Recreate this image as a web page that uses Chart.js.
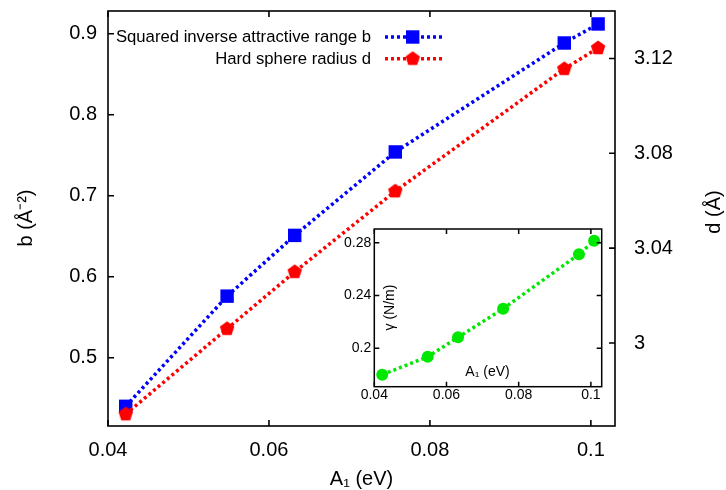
<!DOCTYPE html>
<html><head><meta charset="utf-8">
<script src="https://cdn.jsdelivr.net/npm/chart.js@4/dist/chart.umd.min.js"></script>
<style>
html,body{margin:0;padding:0;background:#fff;}
#wrap{position:relative;width:726px;height:490px;overflow:hidden;}
#main{position:absolute;left:0;top:0;}
#inset{position:absolute;left:330px;top:220px;}
</style></head><body>
<div id="wrap"><canvas id="main" width="726" height="490"></canvas><canvas id="inset" width="290" height="195"></canvas></div>
<script>
// ---- data ----
const A1 = [0.0422, 0.0548, 0.0632, 0.0757, 0.0967, 0.1009];
const bValues = [0.440, 0.576, 0.651, 0.754, 0.8885, 0.912];
const dValues = [2.970, 3.006, 3.030, 3.064, 3.1156, 3.1244];
const gammaValues = [0.180, 0.1936, 0.2083, 0.230, 0.2712, 0.2815];
const xTicks = [0.04, 0.06, 0.08, 0.1];
const xTickLabels = ['0.04', '0.06', '0.08', '0.1'];
const bTicks = [0.5, 0.6, 0.7, 0.8, 0.9];
const bTickLabels = ['0.5', '0.6', '0.7', '0.8', '0.9'];
const dTicks = [3.0, 3.04, 3.08, 3.12];
const dTickLabels = ['3', '3.04', '3.08', '3.12'];
const gTicks = [0.2, 0.24, 0.28];
const gTickLabels = ['0.2', '0.24', '0.28'];
const seriesNames = ['Squared inverse attractive range b', 'Hard sphere radius d'];
const xTitle = 'A\u2081 (eV)';
const bTitle = 'b (\u00C5\u207B\u00B2)';
const dTitle = 'd (\u00C5)';
const gTitle = '\u03B3 (N/m)';

// ---- style ----
const FONT = '"Liberation Sans", Arial, Helvetica, sans-serif';
Chart.defaults.font.family = FONT;
Chart.defaults.color = '#000';
const BLUE = '#0000ff', RED = '#ff0000', GREEN = '#00e800';

function pentagon(R, color) {
  const s = Math.ceil(2 * R + 2);
  const c = document.createElement('canvas');
  c.width = s; c.height = s;
  const g = c.getContext('2d');
  g.fillStyle = color; g.beginPath();
  for (let i = 0; i < 5; i++) {
    const a = -Math.PI / 2 + i * 2 * Math.PI / 5;
    const px = s / 2 + R * Math.cos(a), py = s / 2 + R * Math.sin(a);
    if (i) g.lineTo(px, py); else g.moveTo(px, py);
  }
  g.closePath(); g.fill();
  return c;
}
const pentImg = pentagon(7.6, RED);

function fixBox(size) {
  return function (scale) {
    if (scale.isHorizontal()) scale.height = size; else scale.width = size;
    scale.paddingTop = 0; scale.paddingBottom = 0; scale.paddingLeft = 0; scale.paddingRight = 0;
  };
}
function setTicks(values) { return function (scale) { scale.ticks = values.map(v => ({ value: v })); }; }
function pts(ys) { return A1.map((x, i) => ({ x: x, y: ys[i] })); }

const mainDecor = {
  id: 'mainDecor',
  afterDraw(chart) {
    const { ctx, chartArea: a, scales } = chart;
    ctx.save();
    ctx.strokeStyle = '#000'; ctx.lineWidth = 1.6; ctx.setLineDash([]);
    ctx.beginPath();
    xTicks.forEach(v => { const p = scales.x.getPixelForValue(v);
      ctx.moveTo(p, a.bottom); ctx.lineTo(p, a.bottom - 6); ctx.moveTo(p, a.top); ctx.lineTo(p, a.top + 6); });
    bTicks.forEach(v => { const p = scales.y.getPixelForValue(v); ctx.moveTo(a.left, p); ctx.lineTo(a.left + 6, p); });
    dTicks.forEach(v => { const p = scales.y2.getPixelForValue(v); ctx.moveTo(a.right, p); ctx.lineTo(a.right - 6, p); });
    ctx.stroke();
    ctx.strokeRect(a.left, a.top, a.right - a.left, a.bottom - a.top);

    // axis titles
    ctx.fillStyle = '#000';
    ctx.font = '20px ' + FONT;
    ctx.textAlign = 'center'; ctx.textBaseline = 'alphabetic';
    ctx.fillText(xTitle, (a.left + a.right) / 2, 484.5);
    ctx.save(); ctx.translate(26, 218); ctx.rotate(-Math.PI / 2); ctx.textBaseline = 'middle'; ctx.fillText(bTitle, 0, 0); ctx.restore();
    ctx.save(); ctx.translate(714, 212); ctx.rotate(-Math.PI / 2); ctx.textBaseline = 'middle'; ctx.fillText(dTitle, 0, 0); ctx.restore();

    // key
    ctx.font = '16.7px ' + FONT;
    ctx.textAlign = 'right'; ctx.textBaseline = 'middle';
    const rows = [{ y: 37, c: BLUE }, { y: 58.7, c: RED }];
    rows.forEach((r, i) => {
      ctx.fillStyle = '#000';
      ctx.fillText(seriesNames[i], 371, r.y + 0.5);
      ctx.strokeStyle = r.c; ctx.lineWidth = 3.5; ctx.setLineDash([3, 3]);
      ctx.beginPath(); ctx.moveTo(385, r.y); ctx.lineTo(442, r.y); ctx.stroke();
      ctx.setLineDash([]);
      if (i === 0) { ctx.fillStyle = BLUE; ctx.fillRect(412.7 - 6.7, r.y - 6.7, 13.4, 13.4); }
      else { ctx.drawImage(pentImg, 412.7 - pentImg.width / 2, r.y - pentImg.height / 2); }
    });
    ctx.restore();
  }
};

new Chart(document.getElementById('main'), {
  type: 'line',
  data: { datasets: [
    { label: seriesNames[0], data: pts(bValues), yAxisID: 'y', borderColor: BLUE, backgroundColor: BLUE,
      borderWidth: 3.5, borderDash: [3, 3], pointStyle: 'rect', pointRadius: 9.5, pointHoverRadius: 9.5,
      pointBorderWidth: 0, order: 2, fill: false, tension: 0 },
    { label: seriesNames[1], data: pts(dValues), yAxisID: 'y2', borderColor: RED, backgroundColor: RED,
      borderWidth: 3.5, borderDash: [3, 3], pointStyle: pentImg, pointRadius: 7.6, pointHoverRadius: 7.6,
      pointBorderWidth: 0, order: 1, fill: false, tension: 0 }
  ] },
  options: {
    responsive: false, animation: false, devicePixelRatio: 1, events: [],
    layout: { padding: { top: 11, left: 0, right: 0, bottom: 0 } },
    plugins: { legend: { display: false }, tooltip: { enabled: false } },
    scales: {
      x: { type: 'linear', position: 'bottom', min: 0.04, max: 0.103,
        grid: { display: false, drawTicks: false }, border: { display: false },
        ticks: { padding: 12, maxRotation: 0, font: { size: 20 }, color: '#000', callback: (v, i) => xTickLabels[i] },
        afterBuildTicks: setTicks(xTicks), afterFit: fixBox(64) },
      y: { type: 'linear', position: 'left', min: 0.4157, max: 0.928,
        grid: { display: false, drawTicks: false }, border: { display: false },
        ticks: { padding: 11, font: { size: 20 }, color: '#000', callback: (v, i) => bTickLabels[i] },
        afterBuildTicks: setTicks(bTicks), afterFit: fixBox(108) },
      y2: { type: 'linear', position: 'right', min: 2.965, max: 3.14,
        grid: { display: false, drawTicks: false }, border: { display: false },
        ticks: { padding: 19, font: { size: 20 }, color: '#000', callback: (v, i) => dTickLabels[i] },
        afterBuildTicks: setTicks(dTicks), afterFit: fixBox(111) }
    }
  },
  plugins: [mainDecor]
});

const insetDecor = {
  id: 'insetDecor',
  beforeDraw(chart) {
    const { ctx, chartArea: a } = chart;
    ctx.save(); ctx.fillStyle = '#fff'; ctx.fillRect(a.left, a.top, a.right - a.left, a.bottom - a.top); ctx.restore();
  },
  afterDraw(chart) {
    const { ctx, chartArea: a, scales } = chart;
    ctx.save();
    ctx.strokeStyle = '#000'; ctx.lineWidth = 1.5; ctx.setLineDash([]);
    ctx.beginPath();
    xTicks.forEach(v => { const p = scales.x.getPixelForValue(v);
      ctx.moveTo(p, a.bottom); ctx.lineTo(p, a.bottom - 5); ctx.moveTo(p, a.top); ctx.lineTo(p, a.top + 5); });
    gTicks.forEach(v => { const p = scales.y.getPixelForValue(v);
      ctx.moveTo(a.left, p); ctx.lineTo(a.left + 5, p); ctx.moveTo(a.right, p); ctx.lineTo(a.right - 5, p); });
    ctx.stroke();
    ctx.strokeRect(a.left, a.top, a.right - a.left, a.bottom - a.top);
    ctx.fillStyle = '#000';
    ctx.font = '14px ' + FONT;
    ctx.textAlign = 'center'; ctx.textBaseline = 'alphabetic';
    ctx.fillText(xTitle, 487.5 - 330, 376 - 220);
    ctx.save(); ctx.translate(390.5 - 330, 307.5 - 220); ctx.rotate(-Math.PI / 2); ctx.textBaseline = 'middle'; ctx.fillText(gTitle, 0, 0); ctx.restore();
    ctx.restore();
  }
};

new Chart(document.getElementById('inset'), {
  type: 'line',
  data: { datasets: [
    { label: gTitle, data: pts(gammaValues), borderColor: GREEN, backgroundColor: GREEN,
      borderWidth: 3.5, borderDash: [3, 3], pointStyle: 'circle', pointRadius: 6, pointHoverRadius: 6,
      pointBorderWidth: 0, fill: false, tension: 0 }
  ] },
  options: {
    responsive: false, animation: false, devicePixelRatio: 1, events: [],
    layout: { padding: { top: 9, left: 0, right: 18.3, bottom: 0 } },
    plugins: { legend: { display: false }, tooltip: { enabled: false } },
    scales: {
      x: { type: 'linear', position: 'bottom', min: 0.04, max: 0.103,
        grid: { display: false, drawTicks: false }, border: { display: false },
        ticks: { padding: 0, maxRotation: 0, font: { size: 14 }, color: '#000', callback: (v, i) => xTickLabels[i] },
        afterBuildTicks: setTicks(xTicks), afterFit: fixBox(28.3) },
      y: { type: 'linear', position: 'left', min: 0.1709, max: 0.2904,
        grid: { display: false, drawTicks: false }, border: { display: false },
        ticks: { padding: 3, font: { size: 14 }, color: '#000', callback: (v, i) => gTickLabels[i] },
        afterBuildTicks: setTicks(gTicks), afterFit: fixBox(44.3) }
    }
  },
  plugins: [insetDecor]
});
</script>
</body></html>
